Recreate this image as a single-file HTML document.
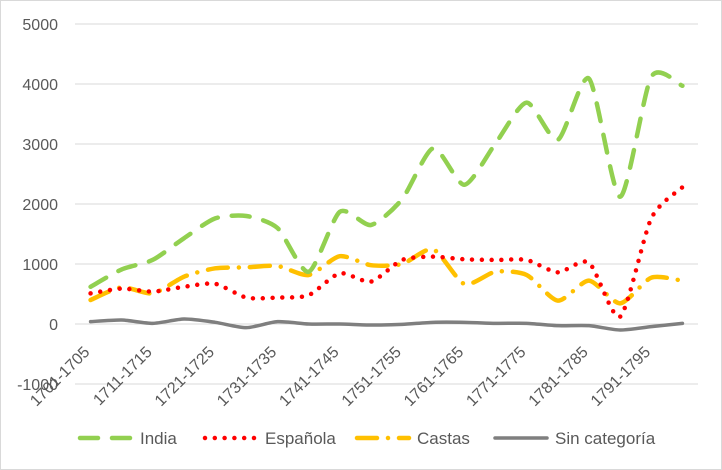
<!DOCTYPE html>
<html><head><meta charset="utf-8"><style>
body{margin:0;background:#fff}
svg{display:block;font-family:"Liberation Sans",sans-serif}
</style></head><body>
<svg id="chart" width="722" height="470" viewBox="0 0 722 470" xmlns="http://www.w3.org/2000/svg">
<rect x="0.5" y="0.5" width="721" height="469" fill="#fff" stroke="#d9d9d9"/>
<g id="grid"></g><g id="ylab"></g><g id="xlab"></g><g id="series"></g><g id="legend"></g>
</svg>
<script>
const categories=["1701-1705","1706-1710","1711-1715","1716-1720","1721-1725","1726-1730","1731-1735","1736-1740","1741-1745","1746-1750","1751-1755","1756-1760","1761-1765","1766-1770","1771-1775","1776-1780","1781-1785","1786-1790","1791-1795","1796-1800"];
const india=[620,910,1070,1430,1760,1800,1600,870,1870,1650,2080,2930,2320,3010,3690,3070,4090,2120,4120,3970];
const espanola=[510,590,540,620,670,440,440,480,845,706,1067,1122,1078,1067,1067,861,1022,122,1761,2280];
const castas=[400,611,511,789,928,944,967,817,1130,980,1000,1244,667,872,817,389,722,344,772,722];
const sinCategoria=[39,67,11,83,28,-61,39,0,0,-17,-6,28,28,11,11,-28,-28,-100,-44,11];
const yTicks=[-1000,0,1000,2000,3000,4000,5000];
const seriesNames=["India","Española","Castas","Sin categoría"];

const L=75,R=698,T=24,B=384,ymin=-1000,ymax=5000;
const ns="http://www.w3.org/2000/svg";
const step=(R-L)/categories.length;
const x=i=>L+step*(i+0.5);
const y=v=>B-(v-ymin)/(ymax-ymin)*(B-T);
function mk(tag,attrs,parent){const e=document.createElementNS(ns,tag);for(const k in attrs)e.setAttribute(k,attrs[k]);parent.appendChild(e);return e;}
const grid=document.getElementById('grid'),ylab=document.getElementById('ylab'),xlab=document.getElementById('xlab'),ser=document.getElementById('series'),leg=document.getElementById('legend');
yTicks.forEach(t=>{
  const g=mk('line',{x1:L,x2:R,y1:y(t),y2:y(t),stroke:'#d9d9d9','stroke-width':1},grid);
  
  
  const tx=mk('text',{x:58,y:y(t)+6,'text-anchor':'end','font-size':16,fill:'#595959'},ylab);
  tx.textContent=t;
  
  
});
categories.forEach((c,i)=>{
  if(i%2)return;
  const cx=x(i),cy=y(0)+29;
  const tx=mk('text',{x:cx,y:cy,'text-anchor':'end','font-size':16,fill:'#595959',transform:`rotate(-45 ${cx} ${cy})`},xlab);
  tx.textContent=c;
  
  
});
function smooth(vals){
  const p=vals.map((v,i)=>[x(i),y(v)]);
  let d=`M${p[0][0]},${p[0][1]}`;
  for(let i=0;i<p.length-1;i++){
    const p0=p[i-1]||p[i],p1=p[i],p2=p[i+1],p3=p[i+2]||p2,k=0.12;
    d+=` C${p1[0]+(p2[0]-p0[0])*k},${p1[1]+(p2[1]-p0[1])*k} ${p2[0]-(p3[0]-p1[0])*k},${p2[1]-(p3[1]-p1[1])*k} ${p2[0]},${p2[1]}`;
  }
  return d;
}
const styles=[
 {c:'#92d050',w:4.5,da:'18 14',cap:'round'},
 {c:'#ff0000',w:4.5,da:'0 9.8',cap:'round'},
 {c:'#ffc000',w:4.5,da:'20 11 0.01 11',cap:'round'},
 {c:'#7f7f7f',w:3.5,da:'none',cap:'round'}];
const order=[sinCategoria,castas,espanola,india],oi=[3,2,1,0];
order.forEach((vals,j)=>{
  const s=styles[oi[j]];
  const p=mk('path',{d:smooth(vals),fill:'none',stroke:s.c,'stroke-width':s.w,'stroke-dasharray':s.da,'stroke-linecap':s.cap,'stroke-linejoin':'round'},ser);
  
  
});
const lx=[80,205,357,495];
seriesNames.forEach((n,i)=>{
  const s=styles[i];
  const g=mk('g',{},leg);
  
  
  mk('line',{x1:lx[i],x2:lx[i]+52,y1:438,y2:438,stroke:s.c,'stroke-width':s.w,'stroke-dasharray':s.da,'stroke-linecap':s.cap},g);
  const t=mk('text',{x:lx[i]+60,y:444,'font-size':17,fill:'#595959'},g);
  t.textContent=n;
});
</script>
</body></html>
